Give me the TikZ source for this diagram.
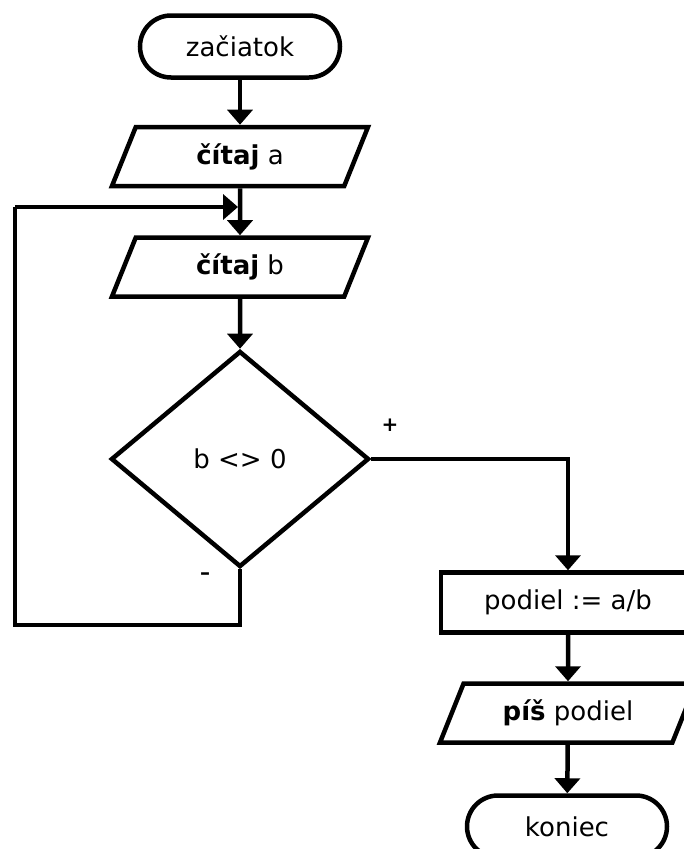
\documentclass[tikz,border=0pt]{standalone}
\usepackage{fontspec}
\setmainfont{DejaVu Sans}
\usetikzlibrary{shapes.geometric,arrows.meta}
\begin{document}
\begin{tikzpicture}[x=1pt,y=-1pt,
  every node/.style={font=\fontsize{26}{31}\selectfont, text=black},
  base/.style={draw, line width=4.5pt, inner sep=0pt},
  term/.style={base, rectangle, rounded corners=31pt, minimum width=200pt, minimum height=62pt},
  io/.style={base, trapezium, trapezium left angle=48, trapezium right angle=132, trapezium stretches body, minimum width=256pt, minimum height=59pt},
  proc/.style={base, rectangle, minimum width=254pt, minimum height=60pt},
  cond/.style={base, diamond, minimum width=258pt, minimum height=216pt},
  lbl/.style={font=\fontsize{20}{24}\selectfont\bfseries},
  flow/.style={line width=4.5pt, -{Triangle[width=25pt,length=15pt]}},
  line/.style={line width=4.5pt}
]
\useasboundingbox (0,0) rectangle (684,849);
\node[term] (start) at (240,46.5) {začiatok};
\node[io] (ra) at (240,156.5) {\textbf{čítaj} a};
\node[io] (rb) at (240,267) {\textbf{čítaj} b};
\node[cond] (test) at (240,459) {b <> 0};
\node[proc] (div) at (568,602.5) {podiel := a/b};
\node[io] (out) at (568,713) {\textbf{píš} podiel};
\node[term] (stop) at (567,826.5) {koniec};
\node[lbl] (plus) at (390,425) {+};
\node[lbl] (minus) at (205,576) {–};
\coordinate (lb) at (15,625);
\coordinate (lt) at (15,207);
\coordinate (j) at (240,207);
\draw[flow] (start) -- (ra);
\draw[flow] (ra) -- (rb);
\draw[flow] (rb) -- (test);
\draw[flow] (test.east) -| (div.north);
\draw[flow] (div) -- (out);
\draw[flow] (out) -- (stop);
\draw[line] (test.south) |- (lb) -- (lt);
\draw[flow, shorten >=2pt] (lt) -- (j);
\end{tikzpicture}
\end{document}
